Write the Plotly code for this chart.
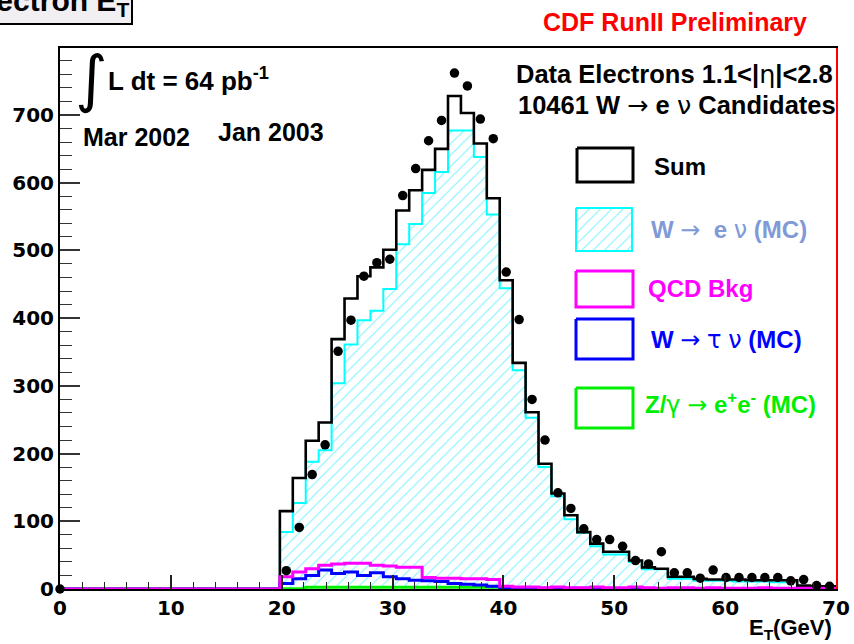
import numpy as np
import plotly.graph_objects as go

# ---------------- data (bins of 70/60 GeV, values for bins 17..59) ----------------
N_BINS = 60
X_MIN, X_MAX = 0.0, 70.0
FIRST_BIN = 17

sum_mc = [115, 164, 219, 246, 369, 429, 462, 475, 501, 559,
          589, 619, 650, 728, 703, 658, 577, 456, 334, 261,
          185, 141, 109, 84, 67, 55, 55, 42, 32, 30,
          18, 18, 15, 14, 14, 14, 13, 13, 13, 13,
          5, 4, 4]
w_enu = [84, 127, 188, 205, 304, 361, 397, 411, 443, 509,
         539, 585, 616, 677, 677, 638, 553, 444, 323, 253,
         180, 137, 103, 83, 63, 51, 51, 40, 29, 29,
         15, 15, 12, 12, 12, 11, 11, 11, 10, 10,
         2, 2, 2]
qcd = [18, 25, 30, 35, 37, 38, 38, 35, 34, 32,
       32, 17, 16, 16, 15, 15, 14, 4, 3, 3,
       2, 3, 2, 2, 3, 2, 2, 3, 2, 1,
       2, 2, 1, 2, 1, 1, 1, 2, 1, 1,
       1, 1, 1]
w_taunu = [8, 15, 20, 28, 23, 25, 20, 24, 18, 15,
           13, 12, 11, 8, 7, 6, 4, 2, 2, 1,
           1, 1, 1, 1, 1, 0.5, 0.5, 0.5, 0.5, 0.5,
           0.5, 0.5, 0.5, 0.5, 0.5, 0.5, 0.5, 0.5, 0.5, 0.5,
           0.5, 0.5, 0.5]
z_ee = [0.5, 0.5, 2.5, 2.5, 2.5, 2.5, 2.5, 2.5, 2.5, 2.5,
        2.5, 2.5, 2.5, 2.5, 2.5, 2.5, 2.5, 0.5, 0.5, 0.5,
        0.5, 0.5, 0.5, 0.5, 0.5, 0.5, 0.5, 0.5, 0.5, 0.5,
        0.5, 0.5, 0.5, 0.5, 0.5, 0.5, 0.5, 0.5, 0.5, 0.5,
        0.5, 0.5, 0.5]
data_counts = [27, 91, 169, 213, 351, 397, 462, 482, 487, 581,
               621, 662, 692, 762, 743, 694, 665, 468, 398, 280,
               220, 142, 119, 89, 73, 73, 63, 42, 37, 55,
               24, 24, 16, 28, 17, 17, 17, 17, 17, 12,
               14, 5, 4]
extra_point_x = [0.0]
extra_point_y = [0]

x_ticks = [0, 10, 20, 30, 40, 50, 60, 70]
y_ticks = [0, 100, 200, 300, 400, 500, 600, 700]

# ---------------- helpers ----------------
edges = np.linspace(X_MIN, X_MAX, N_BINS + 1)
centers = 0.5 * (edges[:-1] + edges[1:])


def full(vals):
    a = np.zeros(N_BINS)
    a[FIRST_BIN:FIRST_BIN + len(vals)] = vals
    return a


def step_y(vals):
    a = full(vals)
    return np.append(a, a[-1])


# pixel geometry of the plot frame
L, R, T, B = 60, 836, 48, 589
W, H = 854, 644


def px(x):
    return (x - L) / (R - L)


def py(y):
    return (B - y) / (B - T)


TXT = "Liberation Sans"
SYM = "DejaVu Sans"


def sym(s):
    return '<span style="font-family:DejaVu Sans;font-weight:normal">' + s + '</span>'


ARROW = sym("\u2192")

HATCH = dict(shape="/", fgcolor="#00e5ff", bgcolor="white", size=8, solidity=0.14)

fig = go.Figure()

# W -> e nu hatched
fig.add_trace(go.Scatter(
    x=edges, y=step_y(w_enu), mode="lines", line=dict(color="#00ffff", width=2, shape="hv"),
    fill="tozeroy", fillcolor="rgba(0,0,0,0)", fillpattern=HATCH,
    showlegend=False, hoverinfo="skip"))
# Sum
fig.add_trace(go.Scatter(
    x=edges, y=step_y(sum_mc), mode="lines", line=dict(color="black", width=2.6, shape="hv"),
    showlegend=False, hoverinfo="skip"))
# Z
fig.add_trace(go.Scatter(
    x=edges, y=step_y(z_ee), mode="lines", line=dict(color="#00ee00", width=3, shape="hv"),
    showlegend=False, hoverinfo="skip"))
# W -> tau nu
fig.add_trace(go.Scatter(
    x=edges, y=step_y(w_taunu), mode="lines", line=dict(color="#0000ff", width=3, shape="hv"),
    showlegend=False, hoverinfo="skip"))
# QCD
fig.add_trace(go.Scatter(
    x=edges, y=step_y(qcd), mode="lines", line=dict(color="#ff00ff", width=3, shape="hv"),
    showlegend=False, hoverinfo="skip"))
# Data
dc = full(data_counts)
mask = dc > 0
fig.add_trace(go.Scatter(
    x=list(extra_point_x) + list(centers[mask]), y=list(extra_point_y) + list(dc[mask]),
    mode="markers", marker=dict(color="black", size=9.5),
    showlegend=False, hoverinfo="skip", cliponaxis=False))

# ---------------- legend swatches on overlay pixel axes ----------------
legend_boxes = [
    ("black", 3, (577, 633, 148, 182), False),
    ("#00ffff", 2, (576, 632, 208, 251), True),
    ("#ff00ff", 3, (576, 633, 271, 307), False),
    ("#0000ff", 3, (576, 633, 319, 359), False),
    ("#00ee00", 3, (576, 633, 388, 428), False),
]
for col, lw, (x0, x1, y0, y1), hatch in legend_boxes:
    kw = dict(fill="toself", fillcolor="rgba(0,0,0,0)")
    if hatch:
        kw["fillpattern"] = HATCH
    fig.add_trace(go.Scatter(
        x=[x0, x1, x1, x0, x0], y=[y0, y0, y1, y1, y0], mode="lines",
        line=dict(color=col, width=lw), xaxis="x2", yaxis="y2",
        showlegend=False, hoverinfo="skip", **kw))

legend_texts = [
    ("Sum", "black", 652, 166),
    ("W " + ARROW + "  e " + sym("\u03bd") + " (MC)", "#809ad8", 649, 230),
    ("QCD Bkg", "#ff00ff", 646, 288),
    ("W " + ARROW + " " + sym("\u03c4") + " " + sym("\u03bd") + " (MC)", "#0000ff", 649, 340),
    ("Z/" + sym("\u03b3") + " " + ARROW + " e<sup>+</sup>e<sup>-</sup> (MC)", "#00ee00", 643, 403),
]

annotations = []
for txt, col, x, y in legend_texts:
    annotations.append(dict(text=txt, xref="paper", yref="paper", x=px(x), y=py(y),
                            xanchor="left", yanchor="middle", showarrow=False,
                            font=dict(family=TXT, size=24, color=col, weight="bold")))

# Other texts
annotations += [
    dict(text="Electron E<sub>T</sub>", xref="paper", yref="paper", x=px(133), y=py(25),
         xanchor="right", yanchor="bottom", showarrow=False, bgcolor="#f2eff3",
         bordercolor="black", borderwidth=2, borderpad=2,
         font=dict(family=TXT, size=30, color="black", weight="bold")),
    dict(text="CDF RunII Preliminary", xref="paper", yref="paper", x=px(675), y=py(22),
         xanchor="center", yanchor="middle", showarrow=False,
         font=dict(family=TXT, size=25, color="#ff0000", weight="bold")),
    dict(text="Data Electrons 1.1<|" + sym("\u03b7") + "|<2.8", xref="paper", yref="paper",
         x=px(835), y=py(74), xanchor="right", yanchor="middle", showarrow=False,
         font=dict(family=TXT, size=25.5, color="black", weight="bold")),
    dict(text="10461 W " + ARROW + " e " + sym("\u03bd") + " Candidates", xref="paper", yref="paper",
         x=px(838), y=py(105), xanchor="right", yanchor="middle", showarrow=False,
         font=dict(family=TXT, size=25.5, color="black", weight="bold")),
    dict(text="\u222b", xref="paper", yref="paper", x=px(91), y=py(79),
         xanchor="center", yanchor="middle", showarrow=False,
         font=dict(family=SYM, size=62, color="black")),
    dict(text="L dt = 64 pb<sup>-1</sup>", xref="paper", yref="paper", x=px(106), y=py(80),
         xanchor="left", yanchor="middle", showarrow=False,
         font=dict(family=TXT, size=26, color="black", weight="bold")),
    dict(text="Mar 2002", xref="paper", yref="paper", x=px(81), y=py(137),
         xanchor="left", yanchor="middle", showarrow=False,
         font=dict(family=TXT, size=25, color="black", weight="bold")),
    dict(text="Jan 2003", xref="paper", yref="paper", x=px(216), y=py(132),
         xanchor="left", yanchor="middle", showarrow=False,
         font=dict(family=TXT, size=25, color="black", weight="bold")),
    dict(text="E<sub>T</sub>(GeV)", xref="paper", yref="paper", x=px(834), y=py(629),
         xanchor="right", yanchor="middle", showarrow=False,
         font=dict(family=TXT, size=22, color="black", weight="bold")),
]

shapes = [
    dict(type="line", xref="paper", yref="paper", x0=px(837), x1=px(837), y0=0, y1=1,
         line=dict(color="#ff0000", width=2)),
]

tickfont = dict(family="DejaVu Sans", size=20, color="black", weight="bold")

fig.update_layout(
    width=W, height=H, autosize=False,
    margin=dict(l=L, r=W - R, t=T, b=H - B, pad=0, autoexpand=False),
    paper_bgcolor="white", plot_bgcolor="white",
    showlegend=False,
    xaxis=dict(range=[X_MIN, X_MAX], tickvals=x_ticks, ticks="inside", ticklen=14,
               tickwidth=1.5, tickcolor="#222", showline=True, linecolor="black",
               linewidth=2, mirror=True, showgrid=False, zeroline=False, automargin=False,
               tickfont=tickfont,
               minor=dict(dtick=2, ticks="inside", ticklen=7, tickwidth=1.2, tickcolor="#222",
                          showgrid=False)),
    yaxis=dict(range=[0, 799], tickvals=y_ticks, ticks="inside", ticklen=20,
               tickwidth=1.5, tickcolor="#333", showline=True, linecolor="black",
               linewidth=2, mirror=True, showgrid=False, zeroline=False, automargin=False,
               tickfont=tickfont,
               minor=dict(dtick=20, ticks="inside", ticklen=12, tickwidth=1.2, tickcolor="#333",
                          showgrid=False)),
    xaxis2=dict(overlaying="x", range=[L, R], visible=False, anchor="y2", automargin=False),
    yaxis2=dict(overlaying="y", range=[B, T], visible=False, anchor="x2", automargin=False),
    annotations=annotations,
    shapes=shapes,
)

fig.write_html("out.html")
